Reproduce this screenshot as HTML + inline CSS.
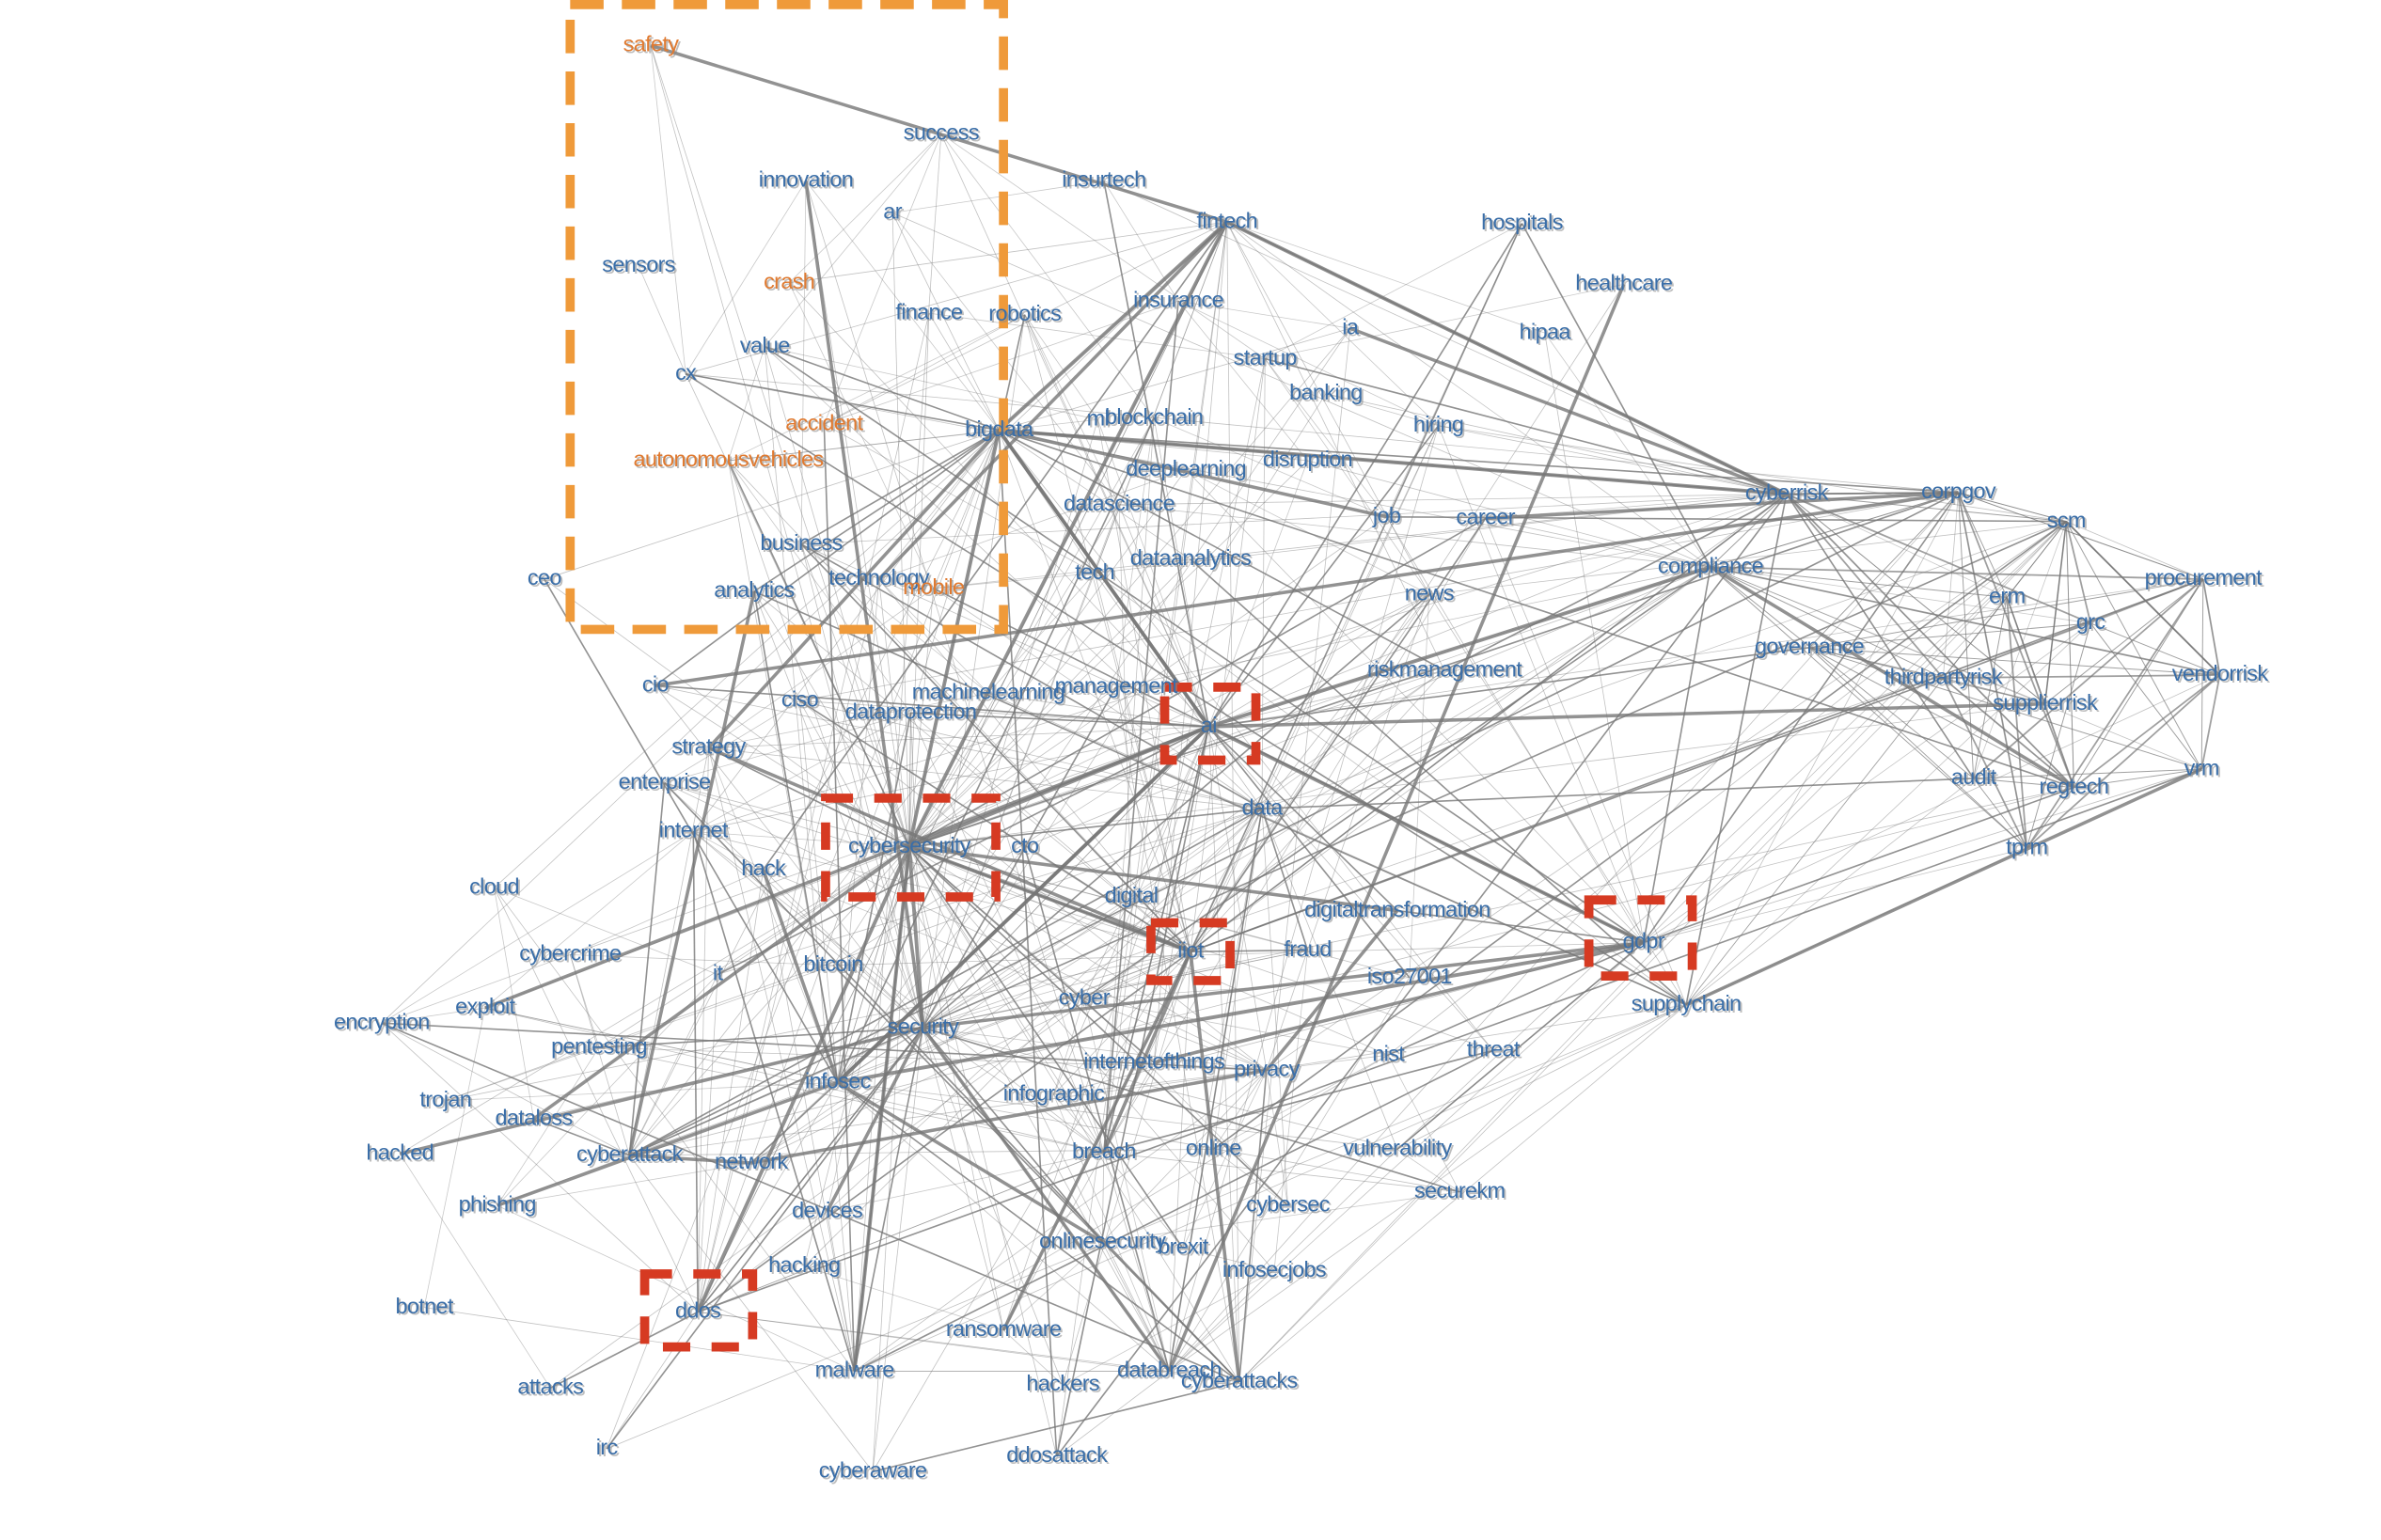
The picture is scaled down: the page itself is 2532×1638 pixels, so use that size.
<!DOCTYPE html>
<html><head><meta charset="utf-8"><style>
html,body{margin:0;padding:0;background:#fff;}
svg{display:block;}
.l text{font-family:"Liberation Sans",Arial,sans-serif;font-size:14.5px;letter-spacing:-0.4px;text-anchor:middle;dominant-baseline:middle;}
.sh text{fill:#8a8a8a;opacity:.55;}
.fg text{fill:#3a6ea8;}
.fg text.o{fill:#e07a30;}
</style></head><body>
<svg id="s" width="2532" height="1638" viewBox="0 0 1566 1013" preserveAspectRatio="none" xmlns="http://www.w3.org/2000/svg">
<g id="edges" stroke="#777" fill="none"></g>
<rect x="375" y="3" width="285" height="411" fill="none" stroke="#ef9a3a" stroke-width="6" stroke-dasharray="22 12"/>
<g fill="none" stroke="#d63a22" stroke-width="6" stroke-dasharray="18 14">
<rect x="766" y="452" width="60" height="48"/>
<rect x="543" y="525" width="112" height="65"/>
<rect x="757" y="607" width="52" height="38"/>
<rect x="1045" y="592" width="68" height="50"/>
<rect x="424" y="838" width="71" height="48"/>
</g>
<g id="labels" class="l fg">
<text x="428" y="30" class="o">safety</text><text x="619" y="88">success</text><text x="530" y="119">innovation</text><text x="726" y="119">insurtech</text><text x="587" y="140">ar</text><text x="807" y="146">fintech</text><text x="1001" y="147">hospitals</text><text x="420" y="175">sensors</text><text x="519" y="186" class="o">crash</text><text x="1068" y="187">healthcare</text><text x="611" y="206">finance</text><text x="674" y="207">robotics</text><text x="775" y="198">insurance</text><text x="888" y="216">ia</text><text x="503" y="228">value</text><text x="1016" y="219">hipaa</text><text x="451" y="246">cx</text><text x="832" y="236">startup</text><text x="872" y="259">banking</text><text x="542" y="279" class="o">accident</text><text x="657" y="283">bigdata</text><text x="722" y="276">ml</text><text x="759" y="275">blockchain</text><text x="946" y="280">hiring</text><text x="479" y="303" class="o">autonomousvehicles</text><text x="780" y="309">deeplearning</text><text x="860" y="303">disruption</text><text x="736" y="332">datascience</text><text x="1175" y="325">cyberrisk</text><text x="1288" y="324">corpgov</text><text x="912" y="340">job</text><text x="977" y="341">career</text><text x="1359" y="343">scm</text><text x="527" y="358">business</text><text x="783" y="368">dataanalytics</text><text x="720" y="377">tech</text><text x="1125" y="373">compliance</text><text x="358" y="381">ceo</text><text x="578" y="381">technology</text><text x="614" y="387" class="o">mobile</text><text x="496" y="389">analytics</text><text x="940" y="391">news</text><text x="1320" y="393">erm</text><text x="1449" y="381">procurement</text><text x="1375" y="410">grc</text><text x="1190" y="426">governance</text><text x="950" y="441">riskmanagement</text><text x="1278" y="446">thirdpartyrisk</text><text x="1460" y="444">vendorrisk</text><text x="431" y="451">cio</text><text x="650" y="456">machinelearning</text><text x="734" y="452">management</text><text x="795" y="478">ai</text><text x="526" y="461">ciso</text><text x="599" y="469">dataprotection</text><text x="1345" y="463">supplierrisk</text><text x="466" y="492">strategy</text><text x="1298" y="512">audit</text><text x="1364" y="518">regtech</text><text x="1448" y="506">vrm</text><text x="437" y="515">enterprise</text><text x="830" y="532">data</text><text x="456" y="547">internet</text><text x="598" y="557">cybersecurity</text><text x="674" y="557">cto</text><text x="502" y="572">hack</text><text x="1333" y="558">tprm</text><text x="325" y="584">cloud</text><text x="744" y="590">digital</text><text x="919" y="599">digitaltransformation</text><text x="783" y="626">iiot</text><text x="860" y="625">fraud</text><text x="1081" y="620">gdpr</text><text x="375" y="628">cybercrime</text><text x="472" y="641">it</text><text x="548" y="635">bitcoin</text><text x="927" y="643">iso27001</text><text x="1109" y="661">supplychain</text><text x="319" y="663">exploit</text><text x="713" y="657">cyber</text><text x="251" y="673">encryption</text><text x="607" y="676">security</text><text x="394" y="689">pentesting</text><text x="982" y="691">threat</text><text x="913" y="694">nist</text><text x="759" y="699">internetofthings</text><text x="833" y="704">privacy</text><text x="551" y="712">infosec</text><text x="693" y="720">infographic</text><text x="293" y="724">trojan</text><text x="351" y="736">dataloss</text><text x="263" y="759">hacked</text><text x="414" y="760">cyberattack</text><text x="494" y="765">network</text><text x="726" y="758">breach</text><text x="798" y="756">online</text><text x="919" y="756">vulnerability</text><text x="960" y="784">securekm</text><text x="327" y="793">phishing</text><text x="847" y="793">cybersec</text><text x="544" y="797">devices</text><text x="725" y="817">onlinesecurity</text><text x="778" y="821">brexit</text><text x="838" y="836">infosecjobs</text><text x="529" y="833">hacking</text><text x="279" y="860">botnet</text><text x="459" y="863">ddos</text><text x="660" y="875">ransomware</text><text x="562" y="902">malware</text><text x="769" y="902">databreach</text><text x="815" y="909">cyberattacks</text><text x="699" y="911">hackers</text><text x="362" y="913">attacks</text><text x="399" y="953">irc</text><text x="574" y="968">cyberaware</text><text x="695" y="958">ddosattack</text>
</g>
</svg>
<script>
(function(){
var s=document.getElementById('s'),lab=document.getElementById('labels'),E=document.getElementById('edges');
var ns='http://www.w3.org/2000/svg';
var sh=lab.cloneNode(true);sh.removeAttribute('id');sh.setAttribute('class','l sh');sh.setAttribute('transform','translate(1.2,1.2)');
s.insertBefore(sh,lab);
var N={};var list=[];
Array.prototype.forEach.call(lab.querySelectorAll('text'),function(t){var n={name:t.textContent,x:+t.getAttribute('x'),y:+t.getAttribute('y')};N[n.name]=n;list.push(n);});
var seed=7;function r(){seed=(seed*16807)%2147483647;return (seed-1)/2147483646;}
function line(a,b,w,o){var l=document.createElementNS(ns,'line');l.setAttribute('x1',a.x);l.setAttribute('y1',a.y);l.setAttribute('x2',b.x);l.setAttribute('y2',b.y);l.setAttribute('stroke-width',w);l.setAttribute('stroke-opacity',o);E.appendChild(l);}
var hubs={cybersecurity:0.6,bigdata:0.45,ai:0.5,fintech:0.28,gdpr:0.32,iiot:0.35,cyberrisk:0.28,compliance:0.22,ddos:0.25,security:0.35,infosec:0.3,data:0.28,malware:0.22,cyberattacks:0.22,databreach:0.22,cyberattack:0.22,breach:0.22,privacy:0.22,supplychain:0.2,corpgov:0.2,scm:0.2};
var risk=['cyberrisk','corpgov','scm','procurement','erm','grc','vendorrisk','supplierrisk','thirdpartyrisk','audit','regtech','vrm','tprm','governance','compliance'];
for(var h in hubs){var a=N[h];list.forEach(function(b){if(b===a)return;var d=Math.hypot(a.x-b.x,a.y-b.y);var p=hubs[h]*(d<450?1:0.3);if(r()<p){var th=r();line(a,b,th<0.06?2.2:(th<0.3?1.0:0.5),th<0.3?0.8:0.45);}});}
for(var i=0;i<risk.length;i++)for(var j=i+1;j<risk.length;j++){if(r()<0.6)line(N[risk[i]],N[risk[j]],r()<0.3?1.1:0.6,0.7);}
for(var i=0;i<list.length;i++)for(var j=i+1;j<list.length;j++){var a=list[i],b=list[j];var d=Math.hypot(a.x-b.x,a.y-b.y);if(d<260&&r()<0.08)line(a,b,0.5,0.4);}
[['bigdata','ai'],['bigdata','cybersecurity'],['ai','cybersecurity'],['fintech','bigdata'],['fintech','cybersecurity'],['fintech','cyberrisk'],['ai','compliance'],['cybersecurity','ddos'],['cybersecurity','malware'],['cybersecurity','security'],['ai','gdpr'],['gdpr','infosec'],['iiot','cybersecurity'],['bigdata','cyberrisk'],['ai','infosec']].forEach(function(p){line(N[p[0]],N[p[1]],2.4,0.8);});
})();
</script>
</body></html>
